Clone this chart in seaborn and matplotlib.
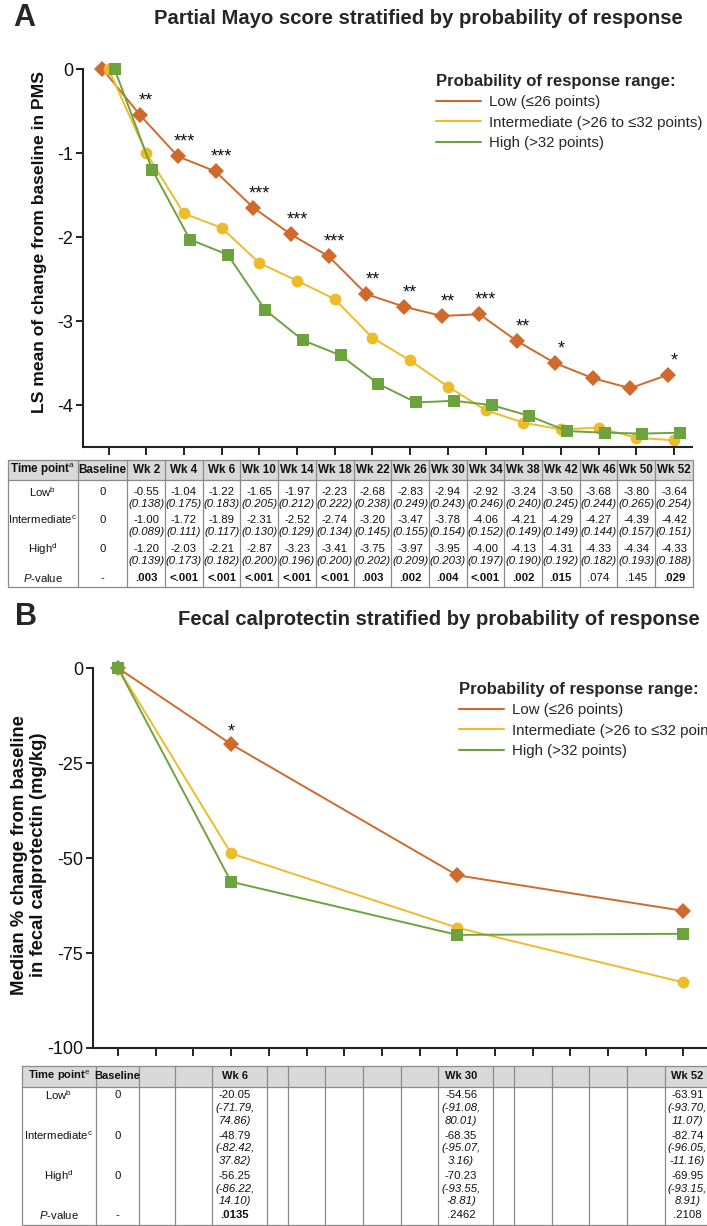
"""
Partial Mayo score and fecal calprotectin by probability of response
"""
import matplotlib
matplotlib.use('Agg')
import matplotlib.pyplot as plt
import seaborn as sns
import pandas as pd
from matplotlib.lines import Line2D
from matplotlib.patches import Rectangle

sns.set_theme(style='white')
plt.rcParams['font.family'] = ['Liberation Sans', 'DejaVu Sans']
plt.rcParams['axes.unicode_minus'] = False
plt.rcParams['mathtext.fontset'] = 'custom'
plt.rcParams['mathtext.rm'] = 'Liberation Sans'
plt.rcParams['mathtext.it'] = 'Liberation Sans:italic'
plt.rcParams['mathtext.bf'] = 'Liberation Sans:bold'

# ---------------- data ----------------
time_points = ['Baseline', 'Wk 2', 'Wk 4', 'Wk 6', 'Wk 10', 'Wk 14', 'Wk 18', 'Wk 22',
               'Wk 26', 'Wk 30', 'Wk 34', 'Wk 38', 'Wk 42', 'Wk 46', 'Wk 50', 'Wk 52']
groups = ['Low', 'Intermediate', 'High']
group_labels = ['Low (≤26 points)', 'Intermediate (>26 to ≤32 points)', 'High (>32 points)']
row_labels = ['Low$^{\\mathrm{b}}$', 'Intermediate$^{\\mathrm{c}}$', 'High$^{\\mathrm{d}}$']

# panel A: LS mean change in partial Mayo score (SE)
pms_low = [0, -0.55, -1.04, -1.22, -1.65, -1.97, -2.23, -2.68, -2.83, -2.94, -2.92, -3.24, -3.50, -3.68, -3.80, -3.64]
pms_int = [0, -1.00, -1.72, -1.89, -2.31, -2.52, -2.74, -3.20, -3.47, -3.78, -4.06, -4.21, -4.29, -4.27, -4.39, -4.42]
pms_high = [0, -1.20, -2.03, -2.21, -2.87, -3.23, -3.41, -3.75, -3.97, -3.95, -4.00, -4.13, -4.31, -4.33, -4.34, -4.33]
pms_se_low = [None, 0.138, 0.175, 0.183, 0.205, 0.212, 0.222, 0.238, 0.249, 0.243, 0.246, 0.240, 0.245, 0.244, 0.265, 0.254]
pms_se_int = [None, 0.089, 0.111, 0.117, 0.130, 0.129, 0.134, 0.145, 0.155, 0.154, 0.152, 0.149, 0.149, 0.144, 0.157, 0.151]
pms_se_high = [None, 0.139, 0.173, 0.182, 0.200, 0.196, 0.200, 0.202, 0.209, 0.203, 0.197, 0.190, 0.192, 0.182, 0.193, 0.188]
pms_pvalues = ['-', '.003', '<.001', '<.001', '<.001', '<.001', '<.001', '.003', '.002', '.004',
               '<.001', '.002', '.015', '.074', '.145', '.029']
pms_stars = ['', '**', '***', '***', '***', '***', '***', '**', '**', '**', '***', '**', '*', '', '', '*']

# panel B: median % change in fecal calprotectin (95% CI)
fc_points = ['Baseline', 'Wk 6', 'Wk 30', 'Wk 52']
fc_low = [0, -20.05, -54.56, -63.91]
fc_int = [0, -48.79, -68.35, -82.74]
fc_high = [0, -56.25, -70.23, -69.95]
fc_ci_low = [None, (-71.79, 74.86), (-91.08, 80.01), (-93.70, 11.07)]
fc_ci_int = [None, (-82.42, 37.82), (-95.07, 3.16), (-96.05, -11.16)]
fc_ci_high = [None, (-86.22, 14.10), (-93.55, -8.81), (-93.15, 8.91)]
fc_pvalues = ['-', '.0135', '.2462', '.2108']
fc_stars = ['', '*', '', '']

# ---------------- style ----------------
colors = {'Low': '#CF6A2C', 'Intermediate': '#EDBC2C', 'High': '#6CA33E'}
markers = {'Low': 'D', 'Intermediate': 'o', 'High': 's'}
dodge = {'Low': -0.16, 'Intermediate': 0.0, 'High': 0.16}
line_col = '#8a8a8a'
spine_col = '#222222'

W, H = 707, 1226
UNIT = 37.7   # pixels between two time points
fig = plt.figure(figsize=(W / 100, H / 100), dpi=100)


def px_rect(left, top, right, bottom):
    return [left / W, 1 - bottom / H, (right - left) / W, (bottom - top) / H]


def p_is_bold(p):
    if p.startswith('<'):
        return True
    try:
        return float(p) < 0.05
    except ValueError:
        return False


def style_axis(ax, x0, left, right, top, bottom, y0, ppu, yticks):
    ax.set_xlim((left - x0) / UNIT, (right - x0) / UNIT)
    ax.set_ylim(-(bottom - y0) / ppu, (y0 - top) / ppu)
    for s in ['top', 'right']:
        ax.spines[s].set_visible(False)
    for s in ['left', 'bottom']:
        ax.spines[s].set_color(spine_col)
        ax.spines[s].set_linewidth(1.5)
    ax.spines['left'].set_bounds(-(bottom - y0) / ppu, 0)
    ax.set_xticks(range(len(time_points)))
    ax.set_yticks(yticks)
    ax.set_yticklabels([str(t) for t in yticks])
    ax.tick_params(axis='x', bottom=True, direction='out', length=6, width=1.4,
                   color=spine_col, labelbottom=False)
    ax.tick_params(axis='y', left=True, direction='out', length=5, width=1.4,
                   color=spine_col, labelsize=13, pad=2, labelcolor='#111')
    ax.set_xlabel('')
    ax.set_ylabel('')
    ax.grid(False)


def add_legend(ax, x, y):
    handles = [Line2D([0], [0], color=colors[g], lw=1.5) for g in groups]
    leg = ax.legend(handles, group_labels, title='Probability of response range:',
                    loc='upper left', bbox_to_anchor=(x / W, 1 - y / H),
                    bbox_transform=fig.transFigure, frameon=False, alignment='left',
                    borderpad=0, borderaxespad=0, handlelength=3.0, handletextpad=0.55,
                    labelspacing=0.42, fontsize=10.8,
                    title_fontproperties={'weight': 'bold', 'size': 12})
    return leg


def draw_table(ax, edges, centers, header, rows, header_h, height, line_ys, line_h, head_size):
    ax.add_patch(Rectangle((edges[0], 0), edges[-1] - edges[0], header_h,
                           facecolor='#d9d9d9', edgecolor='none', clip_on=False))
    for e in edges:
        ax.plot([e, e], [0, height], color=line_col, lw=0.9, clip_on=False)
    for y in [0, header_h, height]:
        ax.plot([edges[0], edges[-1]], [y, y], color=line_col, lw=0.9, clip_on=False)
    for c, txt in zip(centers, header):
        ax.text(c, header_h / 2, txt, ha='center', va='center', fontsize=head_size,
                fontweight='bold', color='#111', clip_on=False)
    for r, row in enumerate(rows):
        for c, cell in zip(centers, row):
            for k, (txt, style) in enumerate(cell):
                ax.text(c, line_ys[r] + k * line_h, txt, ha='center', va='center',
                        fontsize=8.2, color='#111', clip_on=False,
                        fontweight='bold' if style == 'bold' else 'normal',
                        fontstyle='italic' if style == 'italic' else 'normal')
    ax.set_ylim(height + 1, -1)
    ax.axis('off')


# ================= Panel A =================
A_X0, A_Y0, A_PPU = 108.5, 69, 84
A_BOX = (83, 50, 692, 447)
ax_a = fig.add_axes(px_rect(*A_BOX))

rows = []
for g, vals in zip(groups, [pms_low, pms_int, pms_high]):
    for i, v in enumerate(vals):
        rows.append({'group': g, 'pos': i + dodge[g], 'value': v})
df_a = pd.DataFrame(rows)

sns.lineplot(data=df_a, x='pos', y='value', hue='group', style='group',
             hue_order=groups, style_order=groups, palette=colors, markers=markers,
             dashes=False, errorbar=None, linewidth=1.4, markersize=8.5,
             markeredgewidth=0, legend=False, clip_on=False, ax=ax_a)
style_axis(ax_a, A_X0, A_BOX[0], A_BOX[2], A_BOX[1], A_BOX[3], A_Y0, A_PPU, [0, -1, -2, -3, -4])

for i, s in enumerate(pms_stars):
    if s:
        ax_a.annotate(s, (i, pms_low[i]), xytext=(0, 4), textcoords='offset points',
                      ha='center', va='bottom', fontsize=13, color='#111')

add_legend(ax_a, 436, 74)

fig.text(40 / W, 1 - 242 / H, 'LS mean of change from baseline in PMS', rotation=90,
         ha='center', va='center', fontsize=12.6, fontweight='bold', color='#111')
fig.text(13 / W, 1 - 18 / H, 'A', fontsize=22, fontweight='bold', ha='left', va='center')
fig.text(154 / W, 1 - 18 / H, 'Partial Mayo score stratified by probability of response',
         fontsize=14.6, fontweight='bold', ha='left', va='center')

# table A
tab_a = fig.add_axes(px_rect(0, 459, W, 588))
tab_a.set_xlim((0 - A_X0) / UNIT, (W - A_X0) / UNIT)
edges_a = [-2.67, -0.82] + [p + 0.5 for p in range(len(time_points))]
centers_a = [(a + b) / 2 for a, b in zip(edges_a[:-1], edges_a[1:])]
header_a = ['Time point$^{\\mathrm{a}}$'] + time_points
body_a = []
for lab, vals, ses in zip(row_labels, [pms_low, pms_int, pms_high], [pms_se_low, pms_se_int, pms_se_high]):
    row = [[(lab, 'normal')]]
    for v, se in zip(vals, ses):
        if se is None:
            row.append([('0', 'normal')])
        else:
            row.append([(f'{v:.2f}', 'normal'), (f'({se:.3f})', 'italic')])
    body_a.append(row)
body_a.append([[('$P$-value', 'normal')]] +
              [[(p, 'bold' if p_is_bold(p) else 'normal')] for p in pms_pvalues])
draw_table(tab_a, edges_a, centers_a, header_a, body_a, header_h=20, height=127,
           line_ys=[32, 60, 89, 118], line_h=12, head_size=8.4)

# ================= Panel B =================
B_X0, B_Y0, B_PPU = 118, 668, 3.8
B_BOX = (93, 650, 707, 1048)
ax_b = fig.add_axes(px_rect(*B_BOX))

fc_pos = [time_points.index(t) for t in fc_points]
rows = []
for g, vals in zip(groups, [fc_low, fc_int, fc_high]):
    for p, v in zip(fc_pos, vals):
        rows.append({'group': g, 'pos': p, 'value': v})
df_b = pd.DataFrame(rows)

sns.lineplot(data=df_b, x='pos', y='value', hue='group', style='group',
             hue_order=groups, style_order=groups, palette=colors, markers=markers,
             dashes=False, errorbar=None, linewidth=1.4, markersize=8.5,
             markeredgewidth=0, legend=False, clip_on=False, ax=ax_b)
style_axis(ax_b, B_X0, B_BOX[0], B_BOX[2], B_BOX[1], B_BOX[3], B_Y0, B_PPU, [0, -25, -50, -75, -100])

for p, v, s in zip(fc_pos, fc_low, fc_stars):
    if s:
        ax_b.annotate(s, (p, v), xytext=(0, 3), textcoords='offset points',
                      ha='center', va='bottom', fontsize=13, color='#111')

add_legend(ax_b, 459, 682)

fig.text(29 / W, 1 - 855 / H, 'Median % change from baseline\nin fecal calprotectin (mg/kg)',
         rotation=90, ha='center', va='center', multialignment='center',
         fontsize=13.3, fontweight='bold', color='#111', linespacing=1.1)
fig.text(15 / W, 1 - 617 / H, 'B', fontsize=22, fontweight='bold', ha='left', va='center')
fig.text(178 / W, 1 - 619 / H, 'Fecal calprotectin stratified by probability of response',
         fontsize=14.6, fontweight='bold', ha='left', va='center')

# table B: only the measured weeks are filled, their columns are wider
tab_b = fig.add_axes(px_rect(0, 1065, W, 1226))
tab_b.set_xlim((0 - B_X0) / UNIT, (W - B_X0) / UNIT)
edges_b = [-2.55, -0.58, 0.55] + [p + (0.95 if time_points[p] in fc_points else 0.5)
                                  for p in range(1, len(time_points))]
centers_b = [(a + b) / 2 for a, b in zip(edges_b[:-1], edges_b[1:])]
centers_b = centers_b[:2] + [p + 0.1 if t in fc_points else centers_b[p + 1]
                             for p, t in enumerate(time_points) if p > 0]
header_b = ['Time point$^{\\mathrm{e}}$'] + [t if t in fc_points else '' for t in time_points]
body_b = []
for lab, vals, cis in zip(row_labels, [fc_low, fc_int, fc_high], [fc_ci_low, fc_ci_int, fc_ci_high]):
    row = [[(lab, 'normal')]]
    for t in time_points:
        if t not in fc_points:
            row.append([])
            continue
        k = fc_points.index(t)
        if cis[k] is None:
            row.append([('0', 'normal')])
        else:
            lo, hi = cis[k]
            row.append([(f'{vals[k]:.2f}', 'normal'), (f'({lo:.2f},', 'italic'),
                        (f'{hi:.2f})', 'italic')])
    body_b.append(row)
p_row = [[('$P$-value', 'normal')]]
for t in time_points:
    if t in fc_points:
        p = fc_pvalues[fc_points.index(t)]
        p_row.append([(p, 'bold' if p_is_bold(p) else 'normal')])
    else:
        p_row.append([])
body_b.append(p_row)
draw_table(tab_b, edges_b, centers_b, header_b, body_b, header_h=21, height=162,
           line_ys=[30, 71, 112, 152], line_h=13, head_size=8.0)

fig.savefig('out.png', dpi=100, facecolor='white')
